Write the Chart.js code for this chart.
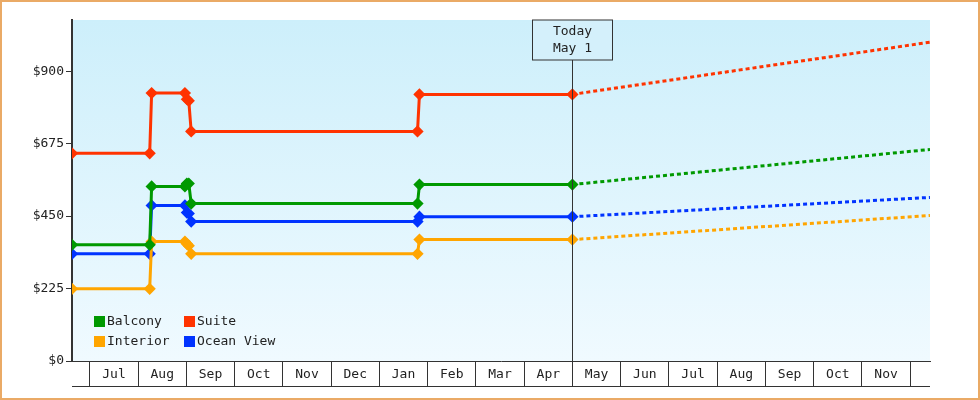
<!DOCTYPE html>
<html>
<head>
<meta charset="utf-8">
<script src="https://cdn.jsdelivr.net/npm/chart.js@4.4.1/dist/chart.umd.min.js"></script>
<style>
  html, body { margin: 0; padding: 0; background: #fff; }
  #wrap { width: 976px; height: 396px; border: 2px solid #eaaa66; }
</style>
</head>
<body>
<div id="wrap"><canvas id="c" width="976" height="396"></canvas></div>
<script>
// x values are months counted from Jul 1 (0 = Jul 1, 10 = May 1 = today)
const monthLabels = ['Jul', 'Aug', 'Sep', 'Oct', 'Nov', 'Dec', 'Jan', 'Feb', 'Mar', 'Apr', 'May', 'Jun', 'Jul', 'Aug', 'Sep', 'Oct', 'Nov']
const todayX = 10
const xPoints = [-0.37, 1.24, 1.28, 1.97, 2.01, 2.05, 2.1, 6.79, 6.83, 10, 17.41]

const suite    = [645, 645, 832, 832, 813, 808, 713, 713, 828, 828, 990]
const balcony  = [361, 361, 542, 542, 551, 551, 489, 489, 548, 548, 657]
const ocean    = [333, 333, 483, 483, 461, 458, 433, 433, 448, 448, 508]
const interior = [224, 224, 371, 371, 364, 358, 333, 333, 377, 377, 452]

const yTicks = [0, 225, 450, 675, 900]
const FONT = 'DejaVu Sans Mono'

function series(label, values, color) {
  return {
    label,
    data: values.map((v, i) => ({ x: xPoints[i], y: v })),
    borderColor: color,
    backgroundColor: color,
    borderWidth: 3,
    pointStyle: 'rectRot',
    pointRadius: values.map((v, i) => i === values.length - 1 ? 0 : 4),
    pointHoverRadius: 4,
    tension: 0,
    segment: {
      borderDash: ctx => ctx.p0.parsed.x >= todayX ? [4, 3] : undefined
    }
  }
}

const extras = {
  id: 'extras',
  beforeDraw(chart) {
    const { ctx, chartArea: a } = chart
    const g = ctx.createLinearGradient(0, a.top, 0, a.bottom)
    g.addColorStop(0, '#cdeffb')
    g.addColorStop(1, '#f0faff')
    ctx.fillStyle = g
    ctx.fillRect(a.left, a.top, a.right - a.left, a.bottom - a.top)
  },
  afterDatasetsDraw(chart) {
    const { ctx, chartArea: a, scales } = chart
    const tx = Math.round(scales.x.getPixelForValue(todayX)) + 0.5
    ctx.save()
    ctx.strokeStyle = '#333'
    ctx.lineWidth = 1
    ctx.beginPath()
    ctx.moveTo(tx, a.top + 40)
    ctx.lineTo(tx, a.bottom + 25)
    ctx.stroke()
    // today label box
    ctx.fillStyle = '#d4f0fb'
    ctx.fillRect(tx - 40, a.top, 80, 40)
    ctx.strokeRect(tx - 40, a.top, 80, 40)
    ctx.fillStyle = '#222'
    ctx.font = '13px ' + FONT
    ctx.textAlign = 'center'
    ctx.textBaseline = 'middle'
    ctx.fillText('Today', tx, a.top + 12)
    ctx.fillText('May 1', tx, a.top + 29)
    // month labels inside the boxes
    monthLabels.forEach((m, i) => {
      ctx.fillText(m, scales.x.getPixelForValue(i + 0.5), a.bottom + 14)
    })
    // bottom line of month boxes
    ctx.beginPath()
    ctx.moveTo(a.left, a.bottom + 25.5)
    ctx.lineTo(a.right, a.bottom + 25.5)
    ctx.stroke()
    // legend
    const items = [[0, 0], [1, 0], [0, 1], [1, 1]]
    chart.data.datasets.forEach((ds, i) => {
      const [col, row] = items[i]
      const lx = a.left + 22 + col * 90
      const ly = a.bottom - 40 + row * 20
      ctx.fillStyle = ds.borderColor
      ctx.fillRect(lx, ly - 5, 11, 11)
      ctx.fillStyle = '#222'
      ctx.textAlign = 'left'
      ctx.fillText(ds.label, lx + 13, ly + 1)
    })
    ctx.restore()
  }
}

new Chart(document.getElementById('c'), {
  type: 'line',
  data: {
    datasets: [
      series('Balcony', balcony, '#009900'),
      series('Suite', suite, '#ff3300'),
      series('Interior', interior, '#ffa500'),
      series('Ocean View', ocean, '#0033ff')
    ]
  },
  options: {
    responsive: false,
    animation: false,
    layout: { padding: { left: 0, right: 48, top: 18, bottom: 12 } },
    plugins: { legend: { display: false }, tooltip: { enabled: false } },
    scales: {
      x: {
        type: 'linear',
        min: -0.37,
        max: 17.41,
        afterBuildTicks: s => { s.ticks = monthLabels.map((m, i) => ({ value: i })).concat([{ value: 17 }]) },
        grid: { drawOnChartArea: false, color: '#333', tickLength: 25 },
        border: { color: '#333', width: 1 },
        ticks: { display: false }
      },
      y: {
        min: 0,
        max: 1059,
        afterBuildTicks: s => { s.ticks = yTicks.map(v => ({ value: v })) },
        grid: { drawOnChartArea: false, color: '#333', tickLength: 6 },
        border: { color: '#333', width: 2 },
        afterFit: s => { s.width = 70 },
        ticks: {
          color: '#222',
          font: { family: FONT, size: 13 },
          padding: 2,
          callback: v => '$' + v
        }
      }
    }
  },
  plugins: [extras]
})
</script>
</body>
</html>
